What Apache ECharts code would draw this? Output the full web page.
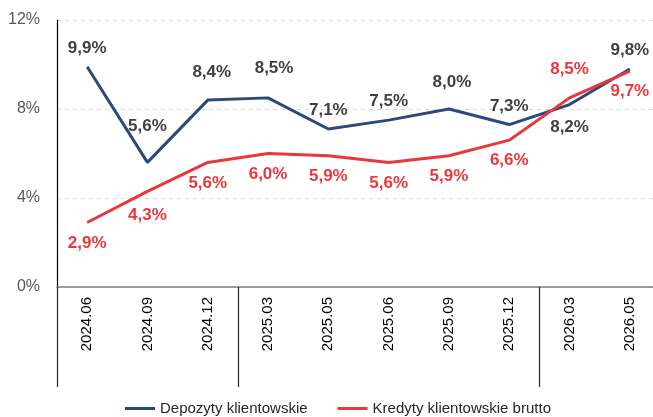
<!DOCTYPE html>
<html>
<head>
<meta charset="utf-8">
<script src="https://cdn.jsdelivr.net/npm/echarts@6/dist/echarts.min.js"></script>
<style>
  html, body { margin: 0; padding: 0; background: #fff; }
  #mainChart { width: 653px; height: 417px; }
</style>
</head>
<body>
<div id="mainChart"></div>
<script>
var categories = ['2024.06', '2024.09', '2024.12', '2025.03', '2025.05', '2025.06', '2025.09', '2025.12', '2026.03', '2026.05'];
var depozyty = [9.9, 5.6, 8.4, 8.5, 7.1, 7.5, 8.0, 7.3, 8.2, 9.8];
var kredyty = [2.9, 4.3, 5.6, 6.0, 5.9, 5.6, 5.9, 6.6, 8.5, 9.7];
// indexes where a new year starts (vertical separators under the axis)
var yearStarts = [0, 3, 8];

// label placement tweaks (Excel moves a few labels away from the lines)
var depLabelTweak = {
	1: { distance: 28 },
	2: { distance: 19, offset: [4, 0] },
	3: { distance: 21, offset: [6, 0] },
	6: { distance: 18, offset: [3, 0] },
	8: { position: 'bottom', distance: 14 }
};
var kreLabelTweak = {
	1: { distance: 15 },
	8: { position: 'top', distance: 20 }
};

function pct(v) {
	return v.toFixed(1).replace('.', ',') + '%';
}

function buildData(values, tweaks) {
	var out = [];
	for (var i = 0; i < values.length; i++) {
		var item = { value: values[i] };
		if (tweaks[i]) {
			item.label = tweaks[i];
		}
		out.push(item);
	}
	return out;
}

var dom = document.getElementById('mainChart');
var myChart = echarts.init(dom);
var option = {
	animation: false,
	backgroundColor: '#fff',
	grid: {
		left: 57,
		right: -7,
		top: 20,
		bottom: 130,
		outerBoundsMode: 'none'
	},
	legend: {
		bottom: -4,
		left: 120,
		itemWidth: 30,
		itemHeight: 3,
		itemGap: 30,
		icon: 'rect',
		textStyle: {
			color: '#262626',
			fontSize: 15,
			fontFamily: 'Liberation Sans'
		},
		data: ['Depozyty klientowskie', 'Kredyty klientowskie brutto']
	},
	xAxis: {
		type: 'category',
		data: categories,
		boundaryGap: true,
		axisLine: { lineStyle: { color: '#7f7f7f', width: 1.5 } },
		axisTick: {
			show: true,
			length: 100,
			interval: function (index) {
				return yearStarts.indexOf(index) >= 0;
			},
			lineStyle: { color: '#262626', width: 1.2 }
		},
		axisLabel: {
			rotate: 90,
			interval: 0,
			margin: 10,
			color: '#000',
			fontSize: 15,
			fontFamily: 'Liberation Sans'
		}
	},
	yAxis: {
		type: 'value',
		min: 0,
		max: 12,
		interval: 4,
		axisLine: { show: true, lineStyle: { color: '#000', width: 1.2 } },
		axisTick: { show: false },
		axisLabel: {
			margin: 17,
			color: '#595959',
			fontSize: 16,
			fontFamily: 'Liberation Sans',
			formatter: function (v) { return v + '%'; }
		},
		splitLine: {
			lineStyle: { color: '#d9d9d9', type: [4, 4], width: 1 }
		}
	},
	series: [{
		name: 'Depozyty klientowskie',
		type: 'line',
		data: buildData(depozyty, depLabelTweak),
		symbol: 'circle',
		symbolSize: 0,
		showSymbol: true,
		smooth: false,
		lineStyle: { color: '#2b4a7c', width: 3 },
		itemStyle: { color: '#2b4a7c' },
		label: {
			show: true,
			position: 'top',
			distance: 10,
			color: '#404040',
			fontSize: 17,
			fontWeight: 'bold',
			fontFamily: 'Liberation Sans',
			formatter: function (p) { return pct(p.value); }
		},
		z: 3
	}, {
		name: 'Kredyty klientowskie brutto',
		type: 'line',
		data: buildData(kredyty, kreLabelTweak),
		symbol: 'circle',
		symbolSize: 0,
		showSymbol: true,
		smooth: false,
		lineStyle: { color: '#e8383d', width: 3 },
		itemStyle: { color: '#e8383d' },
		label: {
			show: true,
			position: 'bottom',
			distance: 12,
			color: '#e8383d',
			fontSize: 17,
			fontWeight: 'bold',
			fontFamily: 'Liberation Sans',
			formatter: function (p) { return pct(p.value); }
		},
		z: 4
	}]
};
myChart.setOption(option, true);
</script>
</body>
</html>
